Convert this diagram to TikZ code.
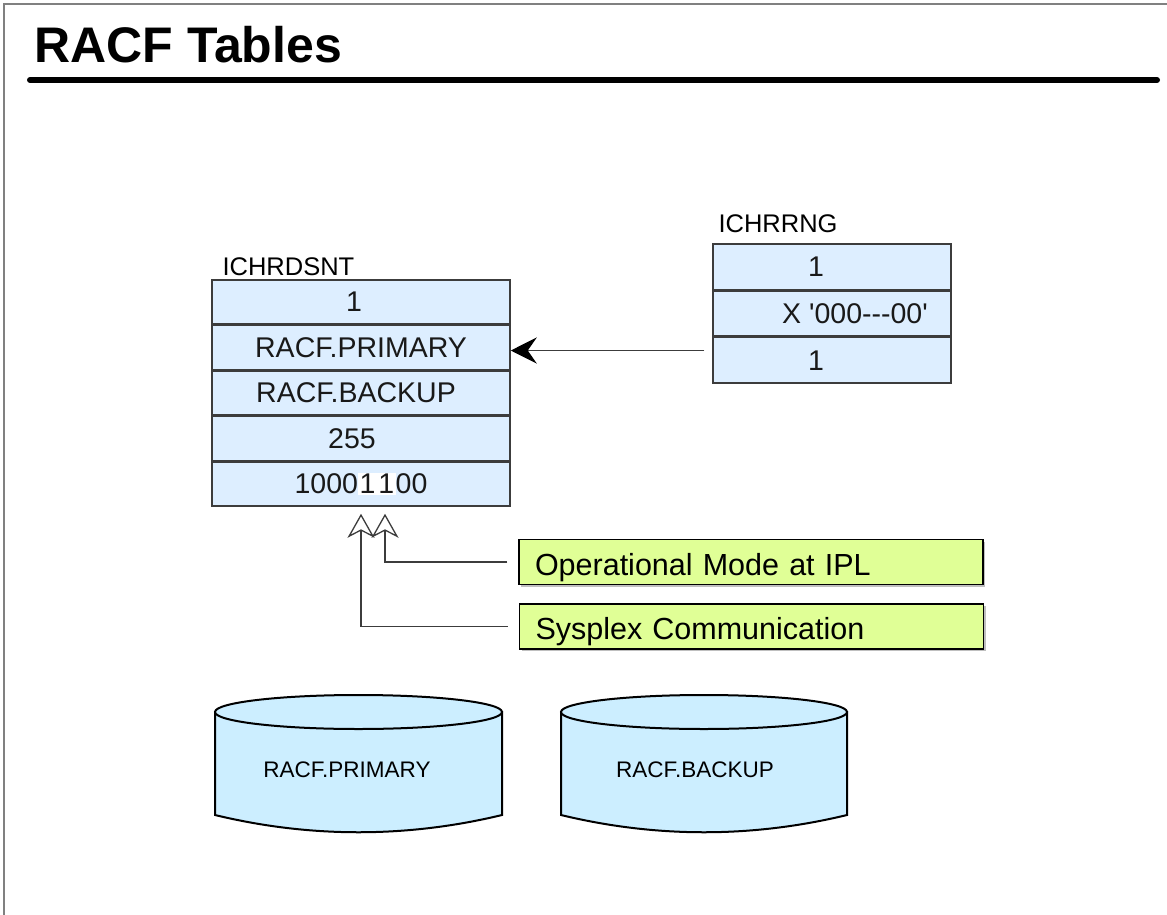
\documentclass[tikz,border=0pt]{standalone}
\usepackage{fontspec}
\setmainfont{Liberation Sans}
\usetikzlibrary{arrows.meta,positioning,shadows}

\definecolor{rowblue}{RGB}{221,238,255}
\definecolor{diskblue}{RGB}{204,238,255}
\definecolor{noteyellow}{RGB}{224,255,150}
\definecolor{edgegray}{RGB}{60,60,60}
\newcommand{\bitmark}[1]{{\setlength{\fboxsep}{1.5pt}\colorbox{white}{#1}}}

\begin{document}
\begin{tikzpicture}[x=1pt, y=-1pt,
  % Table row styles
  dsnt/.style={draw=edgegray, line width=1.5pt, fill=rowblue, minimum width=298pt,
               minimum height=44pt, inner sep=0pt, text=black!90,
               font=\fontsize{28.5}{34}\selectfont},
  rrng/.style={dsnt, minimum width=238pt, minimum height=45.3pt},
  tname/.style={anchor=base west, font=\fontsize{25.5}{30}\selectfont},
  % Note boxes
  note/.style={draw=black, line width=1.5pt, fill=noteyellow, text width=432pt,
               inner xsep=16pt, minimum height=45pt, align=left,
               text height=26pt, text depth=0pt,
               font=\fontsize{30.5}{36}\selectfont,
               drop shadow={shadow xshift=2pt, shadow yshift=-2pt, fill=black!25, opacity=1}},
  % Data sets
  disk/.style={draw=black, line width=2pt, fill=diskblue},
  dlbl/.style={font=\fontsize{22.5}{26}\selectfont},
  % Arrow styles
  ptr/.style={-{Stealth[length=26pt, width=26pt, inset=9pt, black]}, line width=1.5pt, edgegray},
  upptr/.style={-{Stealth[open, length=24pt, width=27pt, inset=7pt]}, line width=1.3pt,
                edgegray, shorten >=7pt},
]
\useasboundingbox (0,0) rectangle (1167,915);

% === Title ===
\draw[gray, line width=2pt] (4,915) -- (4,4.5) -- (1167,4.5);
\node[anchor=base west, font=\bfseries\fontsize{50}{58}\selectfont] (title) at (31,63) {RACF Tables};
\draw[line width=6pt, line cap=round] (30,80) -- (1157,80);

% === ICHRDSNT ===
\node[tname] (dsntLbl) at (219,275) {ICHRDSNT};
\node[dsnt] (d1) at (361,302) {1\hspace*{14pt}};
\node[dsnt, below=0pt of d1] (d2) {RACF.PRIMARY};
\node[dsnt, below=0pt of d2] (d3) {RACF.BACKUP\hspace*{10pt}};
\node[dsnt, below=0pt of d3] (d4) {255\hspace*{18pt}};
\node[dsnt, below=0pt of d4] (d5) {1000\bitmark{1}\bitmark{1}00};

% === ICHRRNG ===
\node[tname] (rngLbl) at (715,232) {ICHRRNG};
\node[rrng] (r1) at (832,266.7) {1\hspace*{32pt}};
\node[rrng, below=0pt of r1] (r2) {\hspace*{46pt}X \textquotesingle000-{}-{}-00\textquotesingle};
\node[rrng, below=0pt of r2] (r3) {1\hspace*{32pt}};

% === Notes ===
\node[note] (opmode) at (751,562) {Operational Mode at IPL};
\node[note] (sysplex) at (751.5,626.5) {Sysplex Communication};

% === Pointers ===
\coordinate (rngOut) at ([xshift=-8pt]r3.west);
\draw[ptr] ([yshift=-3pt]rngOut |- d2.east) -- ([yshift=-3pt]d2.east);

\coordinate (opOut) at ([xshift=-11pt]opmode.west);
\coordinate (sysOut) at ([xshift=-11pt]sysplex.west);
\draw[upptr] (opOut) -| ([xshift=24pt]d5.south);
\draw[upptr] (sysOut) -| (d5.south);

% === Data sets ===
\draw[disk] (215,712) -- (215,815) .. controls (310,838) and (407,838) .. (502,815) -- (502,712) -- cycle;
\draw[disk] (358.5,712) ellipse [x radius=143.5pt, y radius=17pt];
\node[dlbl] (prim) at (347,770) {RACF.PRIMARY};

\draw[disk] (561,712) -- (561,815) .. controls (656,838) and (752,838) .. (847,815) -- (847,712) -- cycle;
\draw[disk] (704,712) ellipse [x radius=143pt, y radius=17pt];
\node[dlbl] (back) at (695,770) {RACF.BACKUP};

\end{tikzpicture}
\end{document}
